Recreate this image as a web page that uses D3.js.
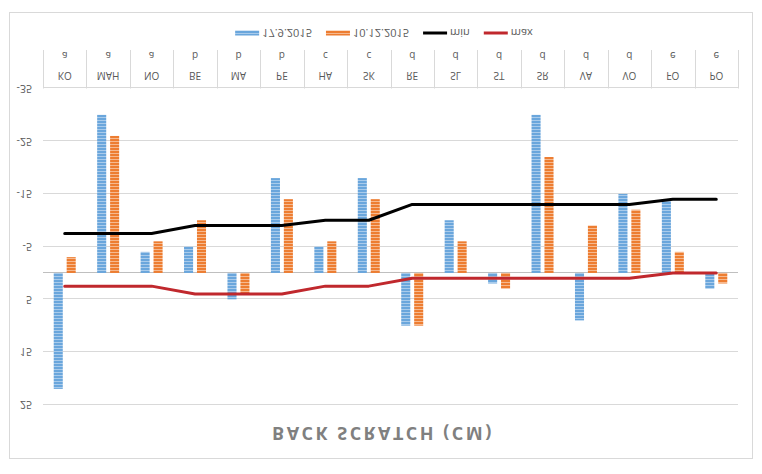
<!DOCTYPE html>
<html>
<head>
<meta charset="utf-8">
<script src="https://cdn.jsdelivr.net/npm/d3@7"></script>
<style>
    body { margin: 0; background: #fff; }
    svg { display: block; }
    text { font-family: 'Open Sans', 'Liberation Sans', sans-serif; }
</style>
</head>
<body>
<div id="chart"></div>
<script>
var names = ['KO', 'MAH', 'NO', 'BE', 'MA', 'PE', 'HA', 'SK', 'RE', 'SL', 'ST', 'SR', 'VA', 'VO', 'FO', 'PO']
var groups = ['a', 'a', 'a', 'b', 'b', 'b', 'c', 'c', 'd', 'd', 'd', 'd', 'd', 'd', 'e', 'e']
var sept2015 = [22, -30, -4, -5, 5, -18, -5, -18, 10, -10, 2, -30, 9, -15, -14, 3]
var dec2015 = [-3, -26, -6, -10, 4, -14, -6, -14, 10, -6, 3, -22, -9, -12, -4, 2]
var minVals = [-7.5, -7.5, -7.5, -9, -9, -9, -10, -10, -13, -13, -13, -13, -13, -13, -14, -14]
var maxVals = [2.5, 2.5, 2.5, 4, 4, 4, 2.5, 2.5, 1, 1, 1, 1, 1, 1, 0, 0]
var yTicks = [-35, -25, -15, -5, 5, 15, 25]
var seriesNames = ['17.9.2015', '10.12.2015']
var lineNames = ['min', 'max']
var title = 'BACK SCRATCH (CM)'

var width = 762
var height = 474
var plotLeft = 43
var plotRight = 738
var blue = '#5b9bd5'
var orange = '#ed7d31'
var lineColors = ['#000000', '#c0282d']

var svg = d3.select('#chart').append('svg')
    .attr('width', width)
    .attr('height', height)

var defs = svg.append('defs')
function stripes(id, dark, light) {
    var p = defs.append('pattern')
        .attr('id', id)
        .attr('patternUnits', 'userSpaceOnUse')
        .attr('width', 4)
        .attr('height', 3)
    p.append('rect').attr('width', 4).attr('height', 3).attr('fill', dark)
    p.append('rect').attr('y', 2).attr('width', 4).attr('height', 1).attr('fill', light)
}
stripes('pBlue', '#6aa6dc', '#a9cbeb')
stripes('pOrange', orange, '#f6b98f')

// the reference picture is mirrored top to bottom: draw the chart normally, then flip it
var root = svg.append('g')
    .attr('transform', 'translate(0,' + height + ') scale(1,-1)')

root.append('rect')
    .attr('x', 9.5)
    .attr('y', 15.5)
    .attr('width', 743)
    .attr('height', 446)
    .attr('fill', 'none')
    .attr('stroke', '#d9d9d9')

var Y = d3.scaleLinear().domain([-35, 25]).range([385.5, 69.3])
var X = d3.scaleBand().domain(names).range([plotLeft, plotRight])
var S = d3.scaleBand().domain(seriesNames).range([-11, 11]).paddingInner(0.3)
function cx(name) { return X(name) + X.bandwidth() / 2 }

root.append('text')
    .attr('x', 383)
    .attr('y', 47.5)
    .attr('text-anchor', 'middle')
    .attr('font-size', 18)
    .attr('font-weight', 'bold')
    .attr('letter-spacing', 2.5)
    .attr('fill', '#808080')
    .text(title)

var grid = root.append('g').attr('class', 'grid')
grid.selectAll('line')
    .data(yTicks)
    .enter()
    .append('line')
    .attr('x1', plotLeft)
    .attr('x2', plotRight)
    .attr('y1', function (d) { return Math.round(Y(d)) + 0.5 })
    .attr('y2', function (d) { return Math.round(Y(d)) + 0.5 })
    .attr('stroke', '#d9d9d9')
grid.selectAll('text')
    .data(yTicks)
    .enter()
    .append('text')
    .attr('x', 32)
    .attr('y', function (d) { return Y(d) + 3.7 })
    .attr('text-anchor', 'end')
    .attr('font-size', 10.5)
    .attr('fill', '#595959')
    .text(function (d) { return String(d) })

root.append('line')
    .attr('x1', plotLeft)
    .attr('x2', plotRight)
    .attr('y1', Math.round(Y(0)) + 0.5)
    .attr('y2', Math.round(Y(0)) + 0.5)
    .attr('stroke', '#bfbfbf')

// category axis, two rows: names then groups
var catAxis = root.append('g').attr('class', 'catAxis')
catAxis.selectAll('line')
    .data(d3.range(names.length + 1))
    .enter()
    .append('line')
    .attr('x1', function (i) { return Math.round(plotLeft + i * X.bandwidth()) + 0.5 })
    .attr('x2', function (i) { return Math.round(plotLeft + i * X.bandwidth()) + 0.5 })
    .attr('y1', Y(-35))
    .attr('y2', 424)
    .attr('stroke', '#d9d9d9')
catAxis.selectAll('text.name')
    .data(names)
    .enter()
    .append('text')
    .attr('class', 'name')
    .attr('x', cx)
    .attr('y', 402)
    .attr('text-anchor', 'middle')
    .attr('font-size', 10)
    .attr('fill', '#595959')
    .text(function (d) { return d })
catAxis.selectAll('text.group')
    .data(groups)
    .enter()
    .append('text')
    .attr('class', 'group')
    .attr('x', function (d, i) { return cx(names[i]) })
    .attr('y', 422)
    .attr('text-anchor', 'middle')
    .attr('font-size', 10)
    .attr('fill', '#595959')
    .text(function (d) { return d })

var series = [
    { name: seriesNames[0], values: sept2015, fill: 'url(#pBlue)' },
    { name: seriesNames[1], values: dec2015, fill: 'url(#pOrange)' }
]
var barG = root.append('g').attr('class', 'bars')
series.forEach(function (s) {
    barG.append('g')
        .selectAll('rect')
        .data(s.values)
        .enter()
        .append('rect')
        .attr('x', function (d, i) { return cx(names[i]) + S(s.name) })
        .attr('y', function (d) { return Y(Math.max(0, d)) })
        .attr('width', S.bandwidth())
        .attr('height', function (d) { return Math.abs(Y(d) - Y(0)) })
        .attr('fill', s.fill)
})

var line = d3.line()
    .x(function (d, i) { return cx(names[i]) })
    .y(function (d) { return Y(d) })
var lines = [minVals, maxVals]
lines.forEach(function (vals, k) {
    root.append('path')
        .attr('d', line(vals))
        .attr('fill', 'none')
        .attr('stroke', lineColors[k])
        .attr('stroke-width', 3)
        .attr('stroke-linejoin', 'round')
        .attr('stroke-linecap', 'round')
})

// legend along the bottom
var legend = root.append('g').attr('class', 'legend')
var items = [
    { label: seriesNames[0], kind: 'bar', color: 'url(#pBlue)' },
    { label: seriesNames[1], kind: 'bar', color: 'url(#pOrange)' },
    { label: lineNames[0], kind: 'line', color: lineColors[0] },
    { label: lineNames[1], kind: 'line', color: lineColors[1] }
]
var lx = 0
var legendY = 441
items.forEach(function (it) {
    var g = legend.append('g').attr('transform', 'translate(' + lx + ',0)')
    if (it.kind == 'bar') {
        g.append('rect')
            .attr('x', 0)
            .attr('y', legendY - 2.5)
            .attr('width', 24)
            .attr('height', 5)
            .attr('fill', it.color)
    } else {
        g.append('line')
            .attr('x1', 0)
            .attr('x2', 24)
            .attr('y1', legendY)
            .attr('y2', legendY)
            .attr('stroke', it.color)
            .attr('stroke-width', 3)
    }
    var t = g.append('text')
        .attr('x', 27)
        .attr('y', legendY + 3.8)
        .attr('font-size', 11)
        .attr('fill', '#595959')
        .text(it.label)
    lx += 27 + t.node().getComputedTextLength() + 14
})
legend.attr('transform', 'translate(' + (384 - (lx - 14) / 2) + ',0)')
</script>
</body>
</html>
